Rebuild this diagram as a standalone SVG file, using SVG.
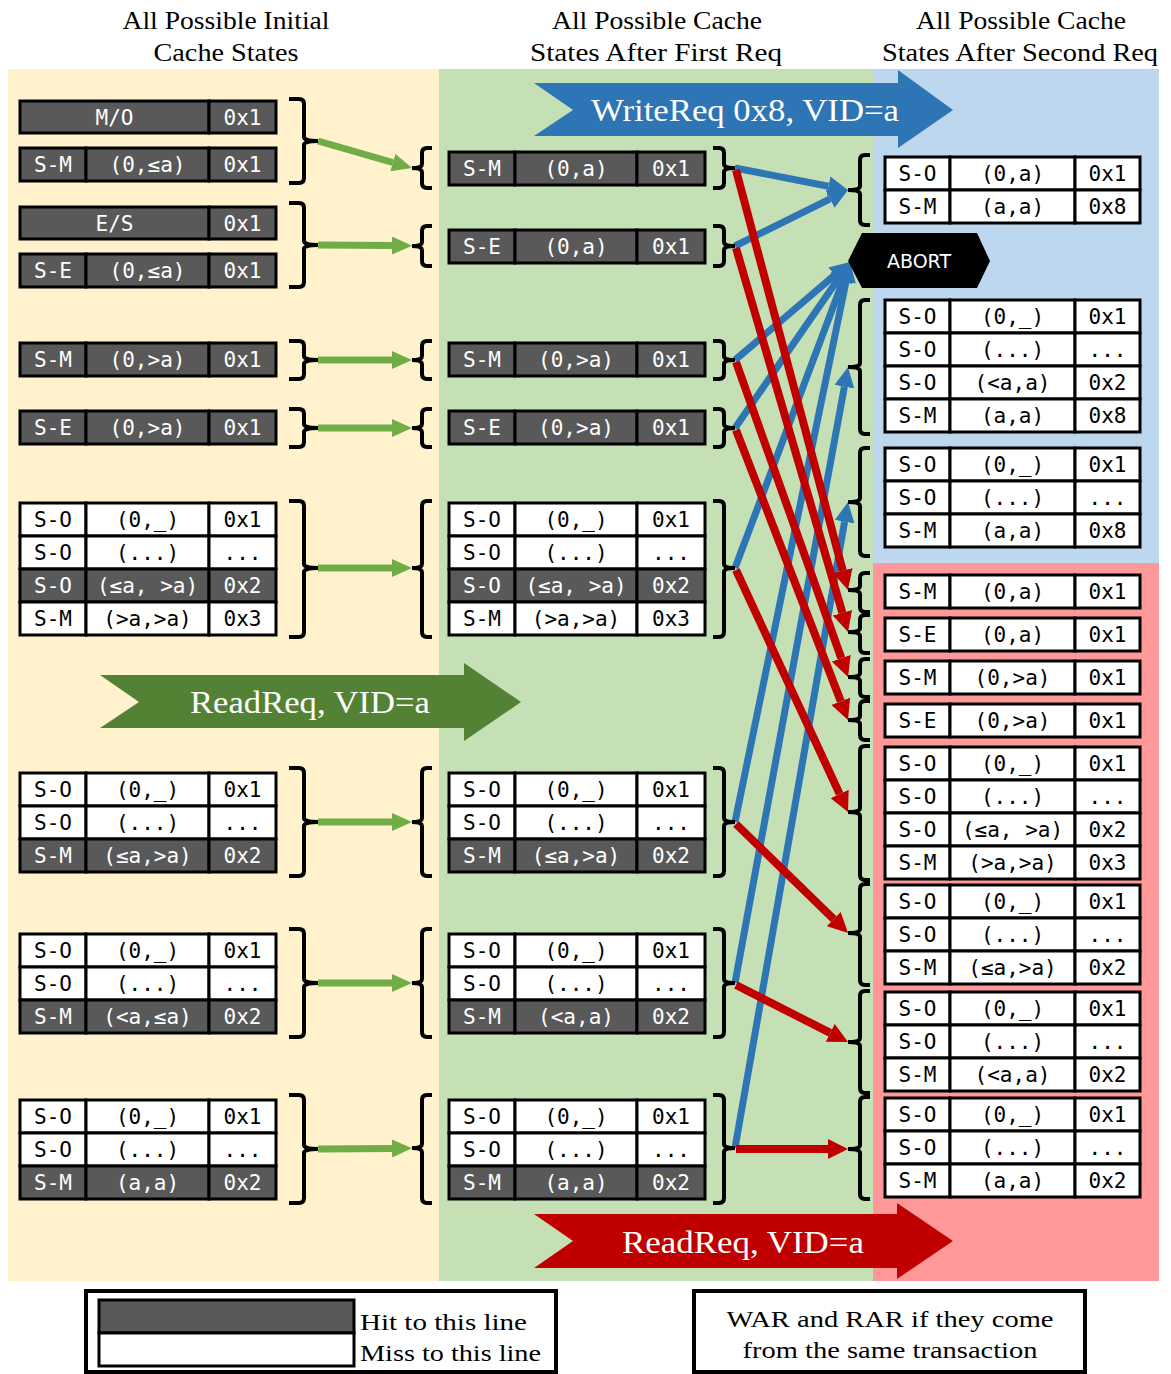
<svg xmlns="http://www.w3.org/2000/svg" xmlns:xlink="http://www.w3.org/1999/xlink" width="1171" height="1374" viewBox="0 0 1171 1374">
<style>
.d{fill:#595959;stroke:#000;stroke-width:3}
.w{fill:#fff;stroke:#000;stroke-width:3}
.c{font-family:"DejaVu Sans Mono",monospace;font-size:21px;text-anchor:middle}
.k{fill:#000}
.wt{fill:#fff}
.h{font-family:"Liberation Serif",serif;font-size:25px;fill:#000;text-anchor:middle}
.bn{font-family:"Liberation Serif",serif;font-size:31px;fill:#fff;text-anchor:middle}
.lg{font-family:"Liberation Serif",serif;font-size:24px;fill:#000}
.br{fill:none;stroke:#000;stroke-width:4}
.lgn{fill:none;stroke:#70AD47;stroke-width:7}
.lbl{fill:none;stroke:#2E75B6;stroke-width:7}
.lrd{fill:none;stroke:#C00000;stroke-width:8}
</style>
<defs>
<g id="rL"><rect x="20" width="66" height="33"/><rect x="86" width="123" height="33"/><rect x="209" width="67" height="33"/></g>
<g id="rM"><rect x="449" width="66" height="33"/><rect x="515" width="122" height="33"/><rect x="637" width="68" height="33"/></g>
<g id="rR"><rect x="885" width="65" height="33"/><rect x="950" width="125" height="33"/><rect x="1075" width="65" height="33"/></g>
<marker id="hg" viewBox="0 0 20 18" refX="0" refY="9" markerWidth="20" markerHeight="18" markerUnits="userSpaceOnUse" orient="auto"><path d="M0,0 L20,9 L0,18 z" fill="#70AD47"/></marker>
<marker id="hb" viewBox="0 0 20 20" refX="0" refY="10" markerWidth="20" markerHeight="20" markerUnits="userSpaceOnUse" orient="auto"><path d="M0,0 L20,10 L0,20 z" fill="#2E75B6"/></marker>
<marker id="hr" viewBox="0 0 20 20" refX="0" refY="10" markerWidth="20" markerHeight="20" markerUnits="userSpaceOnUse" orient="auto"><path d="M0,0 L20,10 L0,20 z" fill="#C00000"/></marker>
</defs>

<g id="backgrounds">
<rect x="8" y="69" width="431" height="1212" fill="#FFF2CC"/>
<rect x="439" y="69" width="434" height="1212" fill="#C5E0B4"/>
<rect x="873" y="69" width="286" height="494" fill="#BDD7EE"/>
<rect x="873" y="563" width="286" height="718" fill="#FF9999"/>
</g>

<g id="headers">
<text class="h" x="226" y="29" textLength="207" lengthAdjust="spacingAndGlyphs">All Possible Initial</text>
<text class="h" x="226" y="61" textLength="145" lengthAdjust="spacingAndGlyphs">Cache States</text>
<text class="h" x="657" y="29" textLength="210" lengthAdjust="spacingAndGlyphs">All Possible Cache</text>
<text class="h" x="656" y="61" textLength="252" lengthAdjust="spacingAndGlyphs">States After First Req</text>
<text class="h" x="1021" y="29" textLength="210" lengthAdjust="spacingAndGlyphs">All Possible Cache</text>
<text class="h" x="1020" y="61" textLength="276" lengthAdjust="spacingAndGlyphs">States After Second Req</text>
</g>

<g id="banner-write">
<polygon points="534,83 898,83 898,70 953,110 898,148 898,136 534,136 573,110" fill="#2E75B6"/>
<text class="bn" x="745" y="121" textLength="308" lengthAdjust="spacingAndGlyphs">WriteReq 0x8, VID=a</text>
</g>
<g id="banner-read1">
<polygon points="100,675 464,675 464,663 521,702 464,741 464,728 100,728 139,702" fill="#548235"/>
<text class="bn" x="310" y="713" textLength="240" lengthAdjust="spacingAndGlyphs">ReadReq, VID=a</text>
</g>
<g id="banner-read2">
<polygon points="534,1214 897,1214 897,1203 953,1241 897,1279 897,1268 534,1268 573,1241" fill="#C00000"/>
<text class="bn" x="743" y="1253" textLength="242" lengthAdjust="spacingAndGlyphs">ReadReq, VID=a</text>
</g>

<g id="connectors">
<line class="lgn" x1="318" y1="141" x2="392.8" y2="162.5" marker-end="url(#hg)"/>
<line class="lgn" x1="318" y1="245" x2="392" y2="245.5" marker-end="url(#hg)"/>
<line class="lgn" x1="318" y1="360" x2="392" y2="360" marker-end="url(#hg)"/>
<line class="lgn" x1="318" y1="428" x2="392" y2="428" marker-end="url(#hg)"/>
<line class="lgn" x1="318" y1="568" x2="392" y2="568" marker-end="url(#hg)"/>
<line class="lgn" x1="318" y1="822" x2="392" y2="822" marker-end="url(#hg)"/>
<line class="lgn" x1="318" y1="983" x2="392" y2="983" marker-end="url(#hg)"/>
<line class="lgn" x1="318" y1="1149" x2="392" y2="1148.5" marker-end="url(#hg)"/>

<line class="lbl" x1="735" y1="168" x2="828.4" y2="186.2" marker-end="url(#hb)"/>
<line class="lbl" x1="735" y1="246" x2="830.1" y2="198.9" marker-end="url(#hb)"/>
<line class="lbl" x1="735" y1="360" x2="834.8" y2="275" marker-end="url(#hb)"/>
<line class="lbl" x1="735" y1="428" x2="838.6" y2="278.4" marker-end="url(#hb)"/>
<line class="lbl" x1="735" y1="568" x2="843" y2="280.7" marker-end="url(#hb)"/>
<line class="lbl" x1="735" y1="822" x2="846" y2="281.6" marker-end="url(#hb)"/>
<line class="lbl" x1="735" y1="983" x2="844.4" y2="386.7" marker-end="url(#hb)"/>
<line class="lbl" x1="735" y1="1148" x2="844.6" y2="521.7" marker-end="url(#hb)"/>

<line class="lrd" x1="736" y1="170" x2="842.8" y2="570.7" marker-end="url(#hr)"/>
<line class="lrd" x1="736" y1="248" x2="842.4" y2="612.8" marker-end="url(#hr)"/>
<line class="lrd" x1="736" y1="362" x2="841.3" y2="658.2" marker-end="url(#hr)"/>
<line class="lrd" x1="736" y1="430" x2="840.8" y2="701.3" marker-end="url(#hr)"/>
<line class="lrd" x1="736" y1="570" x2="839.6" y2="793.9" marker-end="url(#hr)"/>
<line class="lrd" x1="736" y1="824" x2="833.7" y2="919.1" marker-end="url(#hr)"/>
<line class="lrd" x1="736" y1="985" x2="830.2" y2="1032.9" marker-end="url(#hr)"/>
<line class="lrd" x1="736" y1="1149" x2="828" y2="1149" marker-end="url(#hr)"/>
</g>

<g id="braces">
<path class="br" d="M289 99 H299 Q304 99 304 104 V137 Q304 141 318 141 Q304 141 304 145 V178 Q304 183 299 183 H289"/>
<path class="br" d="M289 203 H299 Q304 203 304 208 V241 Q304 245 318 245 Q304 245 304 249 V282 Q304 287 299 287 H289"/>
<path class="br" d="M289 341 H299 Q304 341 304 346 V356 Q304 360 318 360 Q304 360 304 364 V374 Q304 379 299 379 H289"/>
<path class="br" d="M289 409 H299 Q304 409 304 414 V424 Q304 428 318 428 Q304 428 304 432 V442 Q304 447 299 447 H289"/>
<path class="br" d="M289 501 H299 Q304 501 304 506 V564 Q304 568 318 568 Q304 568 304 572 V632 Q304 637 299 637 H289"/>
<path class="br" d="M289 768 H299 Q304 768 304 773 V818 Q304 822 318 822 Q304 822 304 826 V871 Q304 876 299 876 H289"/>
<path class="br" d="M289 929 H299 Q304 929 304 934 V979 Q304 983 318 983 Q304 983 304 987 V1032 Q304 1037 299 1037 H289"/>
<path class="br" d="M289 1095 H299 Q304 1095 304 1100 V1145 Q304 1149 318 1149 Q304 1149 304 1153 V1198 Q304 1203 299 1203 H289"/>

<path class="br" d="M432 148 H427 Q422 148 422 153 V164 Q422 168 412 168 Q422 168 422 172 V183 Q422 188 427 188 H432"/>
<path class="br" d="M432 226 H427 Q422 226 422 231 V242 Q422 246 412 246 Q422 246 422 250 V261 Q422 266 427 266 H432"/>
<path class="br" d="M432 341 H427 Q422 341 422 346 V356 Q422 360 412 360 Q422 360 422 364 V374 Q422 379 427 379 H432"/>
<path class="br" d="M432 409 H427 Q422 409 422 414 V424 Q422 428 412 428 Q422 428 422 432 V442 Q422 447 427 447 H432"/>
<path class="br" d="M432 501 H427 Q422 501 422 506 V564 Q422 568 412 568 Q422 568 422 572 V632 Q422 637 427 637 H432"/>
<path class="br" d="M432 768 H427 Q422 768 422 773 V818 Q422 822 412 822 Q422 822 422 826 V871 Q422 876 427 876 H432"/>
<path class="br" d="M432 929 H427 Q422 929 422 934 V979 Q422 983 412 983 Q422 983 422 987 V1032 Q422 1037 427 1037 H432"/>
<path class="br" d="M432 1095 H427 Q422 1095 422 1100 V1144 Q422 1148 412 1148 Q422 1148 422 1152 V1198 Q422 1203 427 1203 H432"/>

<path class="br" d="M713 148 H719 Q724 148 724 153 V164 Q724 168 735 168 Q724 168 724 172 V183 Q724 188 719 188 H713"/>
<path class="br" d="M713 226 H719 Q724 226 724 231 V242 Q724 246 735 246 Q724 246 724 250 V261 Q724 266 719 266 H713"/>
<path class="br" d="M713 341 H719 Q724 341 724 346 V356 Q724 360 735 360 Q724 360 724 364 V374 Q724 379 719 379 H713"/>
<path class="br" d="M713 409 H719 Q724 409 724 414 V424 Q724 428 735 428 Q724 428 724 432 V442 Q724 447 719 447 H713"/>
<path class="br" d="M713 501 H719 Q724 501 724 506 V564 Q724 568 735 568 Q724 568 724 572 V632 Q724 637 719 637 H713"/>
<path class="br" d="M713 768 H719 Q724 768 724 773 V818 Q724 822 735 822 Q724 822 724 826 V871 Q724 876 719 876 H713"/>
<path class="br" d="M713 929 H719 Q724 929 724 934 V979 Q724 983 735 983 Q724 983 724 987 V1032 Q724 1037 719 1037 H713"/>
<path class="br" d="M713 1095 H719 Q724 1095 724 1100 V1144 Q724 1148 735 1148 Q724 1148 724 1152 V1198 Q724 1203 719 1203 H713"/>

<path class="br" d="M870 155 H865 Q860 155 860 160 V186 Q860 190 848 190 Q860 190 860 194 V220 Q860 225 865 225 H870"/>
<path class="br" d="M870 300 H865 Q860 300 860 305 V363 Q860 367 848 367 Q860 367 860 371 V429 Q860 434 865 434 H870"/>
<path class="br" d="M870 448 H865 Q860 448 860 453 V498 Q860 502 848 502 Q860 502 860 506 V551 Q860 556 865 556 H870"/>
<path class="br" d="M870 573 H865 Q860 573 860 578 V586 Q860 590 848 590 Q860 590 860 594 V607 Q860 612 865 612 H870"/>
<path class="br" d="M870 615 H865 Q860 615 860 620 V628 Q860 632 848 632 Q860 632 860 636 V648 Q860 653 865 653 H870"/>
<path class="br" d="M870 659 H865 Q860 659 860 664 V673 Q860 677 848 677 Q860 677 860 681 V692 Q860 697 865 697 H870"/>
<path class="br" d="M870 701 H865 Q860 701 860 706 V716 Q860 720 848 720 Q860 720 860 724 V735 Q860 740 865 740 H870"/>
<path class="br" d="M870 746 H865 Q860 746 860 751 V808 Q860 812 848 812 Q860 812 860 816 V875 Q860 880 865 880 H870"/>
<path class="br" d="M870 884 H865 Q860 884 860 889 V929 Q860 933 848 933 Q860 933 860 937 V980 Q860 985 865 985 H870"/>
<path class="br" d="M870 991 H865 Q860 991 860 996 V1038 Q860 1042 848 1042 Q860 1042 860 1046 V1088 Q860 1093 865 1093 H870"/>
<path class="br" d="M870 1097 H865 Q860 1097 860 1102 V1145 Q860 1149 848 1149 Q860 1149 860 1153 V1194 Q860 1199 865 1199 H870"/>
</g>

<g id="L1">
<rect class="d" x="20" y="101" width="189" height="32"/><rect class="d" x="209" y="101" width="67" height="32"/>
<text class="c wt" y="125"><tspan x="114.5">M/O</tspan><tspan x="242.5">0x1</tspan></text>
<use xlink:href="#rL" y="148" class="d"/>
<text class="c wt" y="172"><tspan x="53">S-M</tspan><tspan x="147.5">(0,≤a)</tspan><tspan x="242.5">0x1</tspan></text>
</g>
<g id="L2">
<rect class="d" x="20" y="207" width="189" height="32"/><rect class="d" x="209" y="207" width="67" height="32"/>
<text class="c wt" y="231"><tspan x="114.5">E/S</tspan><tspan x="242.5">0x1</tspan></text>
<use xlink:href="#rL" y="254" class="d"/>
<text class="c wt" y="278"><tspan x="53">S-E</tspan><tspan x="147.5">(0,≤a)</tspan><tspan x="242.5">0x1</tspan></text>
</g>
<g id="L3">
<use xlink:href="#rL" y="343" class="d"/>
<text class="c wt" y="367"><tspan x="53">S-M</tspan><tspan x="147.5">(0,&gt;a)</tspan><tspan x="242.5">0x1</tspan></text>
</g>
<g id="L4">
<use xlink:href="#rL" y="411" class="d"/>
<text class="c wt" y="435"><tspan x="53">S-E</tspan><tspan x="147.5">(0,&gt;a)</tspan><tspan x="242.5">0x1</tspan></text>
</g>
<g id="L5">
<use xlink:href="#rL" y="503" class="w"/>
<text class="c k" y="527"><tspan x="53">S-O</tspan><tspan x="147.5">(0,_)</tspan><tspan x="242.5">0x1</tspan></text>
<use xlink:href="#rL" y="536" class="w"/>
<text class="c k" y="560"><tspan x="53">S-O</tspan><tspan x="147.5">(...)</tspan><tspan x="242.5">...</tspan></text>
<use xlink:href="#rL" y="569" class="d"/>
<text class="c wt" y="593"><tspan x="53">S-O</tspan><tspan x="147.5">(≤a, &gt;a)</tspan><tspan x="242.5">0x2</tspan></text>
<use xlink:href="#rL" y="602" class="w"/>
<text class="c k" y="626"><tspan x="53">S-M</tspan><tspan x="147.5">(&gt;a,&gt;a)</tspan><tspan x="242.5">0x3</tspan></text>
</g>
<g id="L6">
<use xlink:href="#rL" y="773" class="w"/>
<text class="c k" y="797"><tspan x="53">S-O</tspan><tspan x="147.5">(0,_)</tspan><tspan x="242.5">0x1</tspan></text>
<use xlink:href="#rL" y="806" class="w"/>
<text class="c k" y="830"><tspan x="53">S-O</tspan><tspan x="147.5">(...)</tspan><tspan x="242.5">...</tspan></text>
<use xlink:href="#rL" y="839" class="d"/>
<text class="c wt" y="863"><tspan x="53">S-M</tspan><tspan x="147.5">(≤a,&gt;a)</tspan><tspan x="242.5">0x2</tspan></text>
</g>
<g id="L7">
<use xlink:href="#rL" y="934" class="w"/>
<text class="c k" y="958"><tspan x="53">S-O</tspan><tspan x="147.5">(0,_)</tspan><tspan x="242.5">0x1</tspan></text>
<use xlink:href="#rL" y="967" class="w"/>
<text class="c k" y="991"><tspan x="53">S-O</tspan><tspan x="147.5">(...)</tspan><tspan x="242.5">...</tspan></text>
<use xlink:href="#rL" y="1000" class="d"/>
<text class="c wt" y="1024"><tspan x="53">S-M</tspan><tspan x="147.5">(&lt;a,≤a)</tspan><tspan x="242.5">0x2</tspan></text>
</g>
<g id="L8">
<use xlink:href="#rL" y="1100" class="w"/>
<text class="c k" y="1124"><tspan x="53">S-O</tspan><tspan x="147.5">(0,_)</tspan><tspan x="242.5">0x1</tspan></text>
<use xlink:href="#rL" y="1133" class="w"/>
<text class="c k" y="1157"><tspan x="53">S-O</tspan><tspan x="147.5">(...)</tspan><tspan x="242.5">...</tspan></text>
<use xlink:href="#rL" y="1166" class="d"/>
<text class="c wt" y="1190"><tspan x="53">S-M</tspan><tspan x="147.5">(a,a)</tspan><tspan x="242.5">0x2</tspan></text>
</g>

<g id="M1">
<use xlink:href="#rM" y="152" class="d"/>
<text class="c wt" y="176"><tspan x="482">S-M</tspan><tspan x="576">(0,a)</tspan><tspan x="671">0x1</tspan></text>
</g>
<g id="M2">
<use xlink:href="#rM" y="230" class="d"/>
<text class="c wt" y="254"><tspan x="482">S-E</tspan><tspan x="576">(0,a)</tspan><tspan x="671">0x1</tspan></text>
</g>
<g id="M3">
<use xlink:href="#rM" y="343" class="d"/>
<text class="c wt" y="367"><tspan x="482">S-M</tspan><tspan x="576">(0,&gt;a)</tspan><tspan x="671">0x1</tspan></text>
</g>
<g id="M4">
<use xlink:href="#rM" y="411" class="d"/>
<text class="c wt" y="435"><tspan x="482">S-E</tspan><tspan x="576">(0,&gt;a)</tspan><tspan x="671">0x1</tspan></text>
</g>
<g id="M5">
<use xlink:href="#rM" y="503" class="w"/>
<text class="c k" y="527"><tspan x="482">S-O</tspan><tspan x="576">(0,_)</tspan><tspan x="671">0x1</tspan></text>
<use xlink:href="#rM" y="536" class="w"/>
<text class="c k" y="560"><tspan x="482">S-O</tspan><tspan x="576">(...)</tspan><tspan x="671">...</tspan></text>
<use xlink:href="#rM" y="569" class="d"/>
<text class="c wt" y="593"><tspan x="482">S-O</tspan><tspan x="576">(≤a, &gt;a)</tspan><tspan x="671">0x2</tspan></text>
<use xlink:href="#rM" y="602" class="w"/>
<text class="c k" y="626"><tspan x="482">S-M</tspan><tspan x="576">(&gt;a,&gt;a)</tspan><tspan x="671">0x3</tspan></text>
</g>
<g id="M6">
<use xlink:href="#rM" y="773" class="w"/>
<text class="c k" y="797"><tspan x="482">S-O</tspan><tspan x="576">(0,_)</tspan><tspan x="671">0x1</tspan></text>
<use xlink:href="#rM" y="806" class="w"/>
<text class="c k" y="830"><tspan x="482">S-O</tspan><tspan x="576">(...)</tspan><tspan x="671">...</tspan></text>
<use xlink:href="#rM" y="839" class="d"/>
<text class="c wt" y="863"><tspan x="482">S-M</tspan><tspan x="576">(≤a,&gt;a)</tspan><tspan x="671">0x2</tspan></text>
</g>
<g id="M7">
<use xlink:href="#rM" y="934" class="w"/>
<text class="c k" y="958"><tspan x="482">S-O</tspan><tspan x="576">(0,_)</tspan><tspan x="671">0x1</tspan></text>
<use xlink:href="#rM" y="967" class="w"/>
<text class="c k" y="991"><tspan x="482">S-O</tspan><tspan x="576">(...)</tspan><tspan x="671">...</tspan></text>
<use xlink:href="#rM" y="1000" class="d"/>
<text class="c wt" y="1024"><tspan x="482">S-M</tspan><tspan x="576">(&lt;a,a)</tspan><tspan x="671">0x2</tspan></text>
</g>
<g id="M8">
<use xlink:href="#rM" y="1100" class="w"/>
<text class="c k" y="1124"><tspan x="482">S-O</tspan><tspan x="576">(0,_)</tspan><tspan x="671">0x1</tspan></text>
<use xlink:href="#rM" y="1133" class="w"/>
<text class="c k" y="1157"><tspan x="482">S-O</tspan><tspan x="576">(...)</tspan><tspan x="671">...</tspan></text>
<use xlink:href="#rM" y="1166" class="d"/>
<text class="c wt" y="1190"><tspan x="482">S-M</tspan><tspan x="576">(a,a)</tspan><tspan x="671">0x2</tspan></text>
</g>

<g id="R1">
<use xlink:href="#rR" y="157" class="w"/>
<text class="c k" y="181"><tspan x="917.5">S-O</tspan><tspan x="1012.5">(0,a)</tspan><tspan x="1107.5">0x1</tspan></text>
<use xlink:href="#rR" y="190" class="w"/>
<text class="c k" y="214"><tspan x="917.5">S-M</tspan><tspan x="1012.5">(a,a)</tspan><tspan x="1107.5">0x8</tspan></text>
</g>
<g id="ABORT">
<polygon points="848,261 862,233 977,233 990,261 977,288 862,288" fill="#000"/>
<text x="919" y="268" fill="#fff" font-family="'DejaVu Sans',sans-serif" font-size="19" text-anchor="middle">ABORT</text>
</g>
<g id="R2">
<use xlink:href="#rR" y="300" class="w"/>
<text class="c k" y="324"><tspan x="917.5">S-O</tspan><tspan x="1012.5">(0,_)</tspan><tspan x="1107.5">0x1</tspan></text>
<use xlink:href="#rR" y="333" class="w"/>
<text class="c k" y="357"><tspan x="917.5">S-O</tspan><tspan x="1012.5">(...)</tspan><tspan x="1107.5">...</tspan></text>
<use xlink:href="#rR" y="366" class="w"/>
<text class="c k" y="390"><tspan x="917.5">S-O</tspan><tspan x="1012.5">(&lt;a,a)</tspan><tspan x="1107.5">0x2</tspan></text>
<use xlink:href="#rR" y="399" class="w"/>
<text class="c k" y="423"><tspan x="917.5">S-M</tspan><tspan x="1012.5">(a,a)</tspan><tspan x="1107.5">0x8</tspan></text>
</g>
<g id="R3">
<use xlink:href="#rR" y="448" class="w"/>
<text class="c k" y="472"><tspan x="917.5">S-O</tspan><tspan x="1012.5">(0,_)</tspan><tspan x="1107.5">0x1</tspan></text>
<use xlink:href="#rR" y="481" class="w"/>
<text class="c k" y="505"><tspan x="917.5">S-O</tspan><tspan x="1012.5">(...)</tspan><tspan x="1107.5">...</tspan></text>
<use xlink:href="#rR" y="514" class="w"/>
<text class="c k" y="538"><tspan x="917.5">S-M</tspan><tspan x="1012.5">(a,a)</tspan><tspan x="1107.5">0x8</tspan></text>
</g>
<g id="R4">
<use xlink:href="#rR" y="575" class="w"/>
<text class="c k" y="599"><tspan x="917.5">S-M</tspan><tspan x="1012.5">(0,a)</tspan><tspan x="1107.5">0x1</tspan></text>
</g>
<g id="R5">
<use xlink:href="#rR" y="618" class="w"/>
<text class="c k" y="642"><tspan x="917.5">S-E</tspan><tspan x="1012.5">(0,a)</tspan><tspan x="1107.5">0x1</tspan></text>
</g>
<g id="R6">
<use xlink:href="#rR" y="661" class="w"/>
<text class="c k" y="685"><tspan x="917.5">S-M</tspan><tspan x="1012.5">(0,&gt;a)</tspan><tspan x="1107.5">0x1</tspan></text>
</g>
<g id="R7">
<use xlink:href="#rR" y="704" class="w"/>
<text class="c k" y="728"><tspan x="917.5">S-E</tspan><tspan x="1012.5">(0,&gt;a)</tspan><tspan x="1107.5">0x1</tspan></text>
</g>
<g id="R8">
<use xlink:href="#rR" y="747" class="w"/>
<text class="c k" y="771"><tspan x="917.5">S-O</tspan><tspan x="1012.5">(0,_)</tspan><tspan x="1107.5">0x1</tspan></text>
<use xlink:href="#rR" y="780" class="w"/>
<text class="c k" y="804"><tspan x="917.5">S-O</tspan><tspan x="1012.5">(...)</tspan><tspan x="1107.5">...</tspan></text>
<use xlink:href="#rR" y="813" class="w"/>
<text class="c k" y="837"><tspan x="917.5">S-O</tspan><tspan x="1012.5">(≤a, &gt;a)</tspan><tspan x="1107.5">0x2</tspan></text>
<use xlink:href="#rR" y="846" class="w"/>
<text class="c k" y="870"><tspan x="917.5">S-M</tspan><tspan x="1012.5">(&gt;a,&gt;a)</tspan><tspan x="1107.5">0x3</tspan></text>
</g>
<g id="R9">
<use xlink:href="#rR" y="885" class="w"/>
<text class="c k" y="909"><tspan x="917.5">S-O</tspan><tspan x="1012.5">(0,_)</tspan><tspan x="1107.5">0x1</tspan></text>
<use xlink:href="#rR" y="918" class="w"/>
<text class="c k" y="942"><tspan x="917.5">S-O</tspan><tspan x="1012.5">(...)</tspan><tspan x="1107.5">...</tspan></text>
<use xlink:href="#rR" y="951" class="w"/>
<text class="c k" y="975"><tspan x="917.5">S-M</tspan><tspan x="1012.5">(≤a,&gt;a)</tspan><tspan x="1107.5">0x2</tspan></text>
</g>
<g id="R10">
<use xlink:href="#rR" y="992" class="w"/>
<text class="c k" y="1016"><tspan x="917.5">S-O</tspan><tspan x="1012.5">(0,_)</tspan><tspan x="1107.5">0x1</tspan></text>
<use xlink:href="#rR" y="1025" class="w"/>
<text class="c k" y="1049"><tspan x="917.5">S-O</tspan><tspan x="1012.5">(...)</tspan><tspan x="1107.5">...</tspan></text>
<use xlink:href="#rR" y="1058" class="w"/>
<text class="c k" y="1082"><tspan x="917.5">S-M</tspan><tspan x="1012.5">(&lt;a,a)</tspan><tspan x="1107.5">0x2</tspan></text>
</g>
<g id="R11">
<use xlink:href="#rR" y="1098" class="w"/>
<text class="c k" y="1122"><tspan x="917.5">S-O</tspan><tspan x="1012.5">(0,_)</tspan><tspan x="1107.5">0x1</tspan></text>
<use xlink:href="#rR" y="1131" class="w"/>
<text class="c k" y="1155"><tspan x="917.5">S-O</tspan><tspan x="1012.5">(...)</tspan><tspan x="1107.5">...</tspan></text>
<use xlink:href="#rR" y="1164" class="w"/>
<text class="c k" y="1188"><tspan x="917.5">S-M</tspan><tspan x="1012.5">(a,a)</tspan><tspan x="1107.5">0x2</tspan></text>
</g>

<g id="legend-hitmiss">
<rect x="86" y="1291" width="470" height="81" fill="#fff" stroke="#000" stroke-width="4"/>
<rect x="99" y="1300" width="255" height="33" class="d"/>
<rect x="99" y="1333" width="255" height="33" class="w"/>
<text class="lg" x="360" y="1330" textLength="167" lengthAdjust="spacingAndGlyphs">Hit to this line</text>
<text class="lg" x="360" y="1361" textLength="181" lengthAdjust="spacingAndGlyphs">Miss to this line</text>
</g>
<g id="legend-war">
<rect x="694" y="1291" width="391" height="81" fill="#fff" stroke="#000" stroke-width="4"/>
<text class="lg" x="890" y="1327" text-anchor="middle" textLength="327" lengthAdjust="spacingAndGlyphs">WAR and RAR if they come</text>
<text class="lg" x="890" y="1358" text-anchor="middle" textLength="295" lengthAdjust="spacingAndGlyphs">from the same transaction</text>
</g>
</svg>
